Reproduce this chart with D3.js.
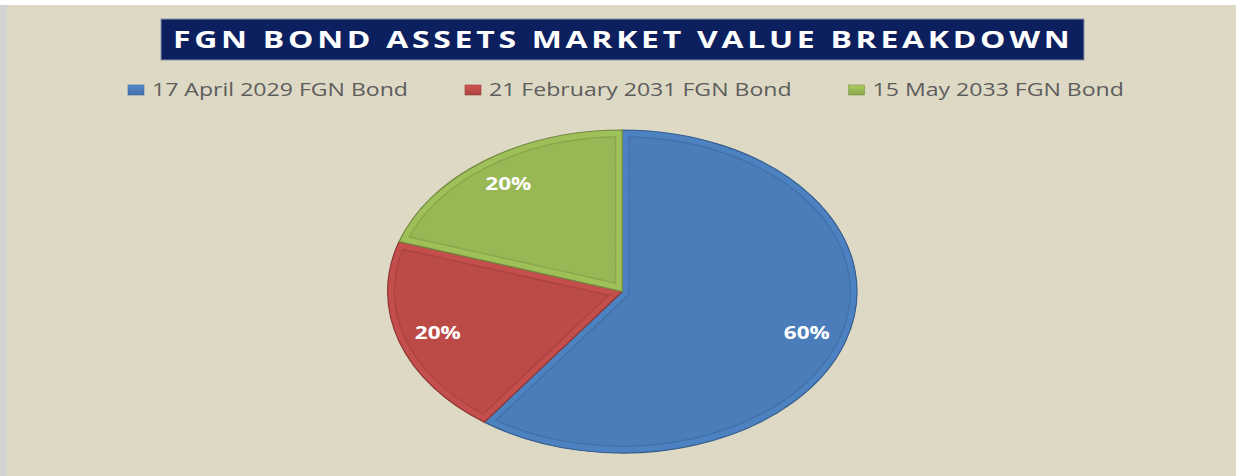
<!DOCTYPE html>
<html><head><meta charset="utf-8">
<script src="https://cdn.jsdelivr.net/npm/d3@7"></script>
<style>html,body{margin:0;padding:0;background:#fff;} svg{display:block;}</style>
</head><body>
<svg id="chart" width="1236" height="476"></svg>
<script>
// ---- data ----
const title = "FGN BOND ASSETS MARKET VALUE BREAKDOWN";
const categories = ["17 April 2029 FGN Bond", "21 February 2031 FGN Bond", "15 May 2033 FGN Bond"];
const values = [60, 20, 20];
const colors = ["#4A7DBA", "#BC4B48", "#98B855"];

// ---- layout ----
const W = 1236, H = 476;
const FONT = "'Open Sans', 'DejaVu Sans', sans-serif";
const svg = d3.select("#chart");
const defs = svg.append("defs");

svg.append("rect").attr("width", W).attr("height", H).attr("fill", "#fff");
svg.append("rect").attr("x", 0).attr("y", 5).attr("width", 7).attr("height", H - 5).attr("fill", "#d3d3d3");
svg.append("rect").attr("x", 7).attr("y", 5).attr("width", W - 7).attr("height", H - 5).attr("fill", "#DDD9C4");

// helper: place text starting at x (baseline y); horizontal stretch and optional letter-spacing to reach target width
function fitText(parent, str, x, y, target, stretch, attrs) {
  const g = parent.append("g");
  const t = g.append("text").attr("x", 0).attr("y", 0).text(str);
  Object.entries(attrs).forEach(([k, v]) => t.attr(k, v));
  const nat = t.node().getComputedTextLength();
  let s = stretch;
  if (stretch == null) {
    s = target / nat;
  } else if (target != null) {
    const ls = (target / s - nat) / (str.length - 1);
    t.attr("letter-spacing", ls);
  }
  g.attr("transform", `translate(${x},${y}) scale(${s},1)`);
  return { g, t, s, nat };
}

// ---- title ----
svg.append("rect").attr("x", 161).attr("y", 19).attr("width", 923).attr("height", 41)
  .attr("fill", "#0C1F5E").attr("stroke", "#8a93aa").attr("stroke-width", 1);
fitText(svg, title, 173, 47.8, 897, 1.42, {
  "font-family": FONT, "font-weight": 700, "font-size": 22.5, "fill": "#ffffff"
});

// ---- legend ----
const legend = svg.append("g");
const legendAttrs = { "font-family": FONT, "font-size": 18, "fill": "#5d5d5d" };
const probe = legend.append("text").attr("font-family", FONT).attr("font-size", 18).text(categories[0]);
const legStretch = 256 / probe.node().getComputedTextLength();
probe.remove();
let lx = 128;
categories.forEach((c, i) => {
  const col = d3.color(colors[i]);
  const gid = "lg" + i;
  const lg = defs.append("linearGradient").attr("id", gid).attr("x1", 0).attr("y1", 0).attr("x2", 0).attr("y2", 1);
  lg.append("stop").attr("offset", 0).attr("stop-color", col.brighter(0.3));
  lg.append("stop").attr("offset", 1).attr("stop-color", col.darker(0.3));
  legend.append("rect").attr("x", lx).attr("y", 85).attr("width", 16).attr("height", 10)
    .attr("fill", `url(#${gid})`).attr("stroke", col.darker(0.6)).attr("stroke-width", 0.6);
  const r = fitText(legend, c, lx + 24, 96, null, legStretch, legendAttrs);
  lx = lx + 24 + r.nat * legStretch + 57;
});

// ---- pie ----
const cx = 622.3, cy = 291.5, rx = 234.7, ry = 161.5;
const k = ry / rx;
const total = d3.sum(values);
const arcs = d3.pie().sort(null).value(d => d)(values);
const arc = d3.arc().innerRadius(0).outerRadius(rx);
const pieG = svg.append("g").attr("transform", `translate(${cx},${cy}) scale(1,${k})`);
const bevel = 6;

arcs.forEach((d, i) => {
  const col = d3.color(colors[i]);
  const cid = "clip" + i;
  defs.append("clipPath").attr("id", cid).append("path").attr("d", arc(d));
  const sg = pieG.append("g");
  sg.append("path").attr("d", arc(d)).attr("fill", col);
  const cg = sg.append("g").attr("clip-path", `url(#${cid})`);
  cg.append("path").attr("d", arc(d)).attr("fill", "none")
    .attr("stroke", col.darker(0.7)).attr("stroke-opacity", 0.4)
    .attr("stroke-width", bevel * 2 + 3).attr("vector-effect", "non-scaling-stroke")
    .attr("stroke-linejoin", "round");
  cg.append("path").attr("d", arc(d)).attr("fill", "none")
    .attr("stroke", col.brighter(0.12))
    .attr("stroke-width", bevel * 2).attr("vector-effect", "non-scaling-stroke")
    .attr("stroke-linejoin", "round");
  sg.append("path").attr("d", arc(d)).attr("fill", "none")
    .attr("stroke", col.darker(0.8)).attr("stroke-width", 1.2)
    .attr("vector-effect", "non-scaling-stroke");
});

// labels
const lr = 194;
const labelArc = d3.arc().innerRadius(lr).outerRadius(lr);
arcs.forEach((d, i) => {
  const [x, y] = labelArc.centroid(d);
  const sx = cx + x, sy = cy + y * k;
  const txt = Math.round(d.value / total * 100) + "%";
  const t = svg.append("text").attr("font-family", FONT).attr("font-weight", 700)
    .attr("font-size", 18).attr("fill", "#fff").text(txt);
  const nat = t.node().getComputedTextLength();
  const s = 46 / nat;
  t.attr("text-anchor", "middle").attr("x", 0).attr("y", 0)
    .attr("transform", `translate(${sx},${sy + 6.5}) scale(${s},1)`);
});
</script>
</body></html>
